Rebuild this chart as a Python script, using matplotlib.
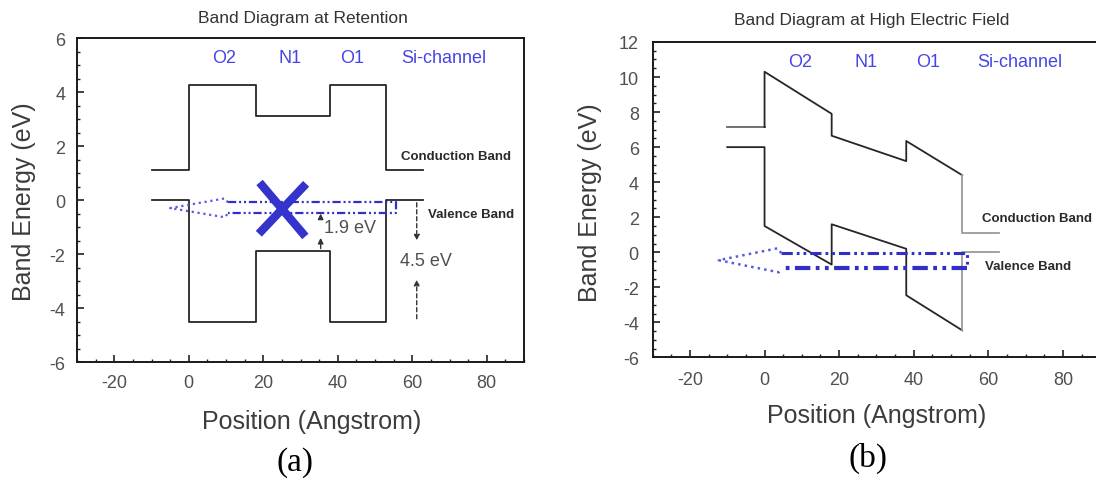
import numpy as np
import matplotlib
matplotlib.use("Agg")
import matplotlib.pyplot as plt
from matplotlib.ticker import MultipleLocator

plt.rcParams['font.family'] = ['Liberation Sans', 'DejaVu Sans']
plt.rcParams['axes.unicode_minus'] = False

# ---- panel (a): band diagram at retention ----
pos_a = [-10, 0, 0, 18, 18, 38, 38, 53, 53, 63]
cb_a = [1.1, 1.1, 4.25, 4.25, 3.1, 3.1, 4.25, 4.25, 1.1, 1.1]
vb_a = [0, 0, -4.5, -4.5, -1.9, -1.9, -4.5, -4.5, 0, 0]

# hole path outline (shaft + dotted head), panel (a)
shaft_a_x = [10.5, 55.6, 55.6, 10.5]
shaft_a_y = [-0.09, -0.09, -0.49, -0.49]
head_a_x = [10.5, 9.7, -5, 9.7, 10.5]
head_a_y = [-0.09, 0.06, -0.3, -0.64, -0.49]
cross_a = [[(19, 0.65), (31.3, -1.35)], [(31.5, 0.6), (18.8, -1.25)]]

# ---- panel (b): band diagram at high electric field ----
pos_b = [-10, 0, 0, 18, 18, 38, 38, 53]
cb_b = [7.15, 7.15, 10.3, 7.9, 6.65, 5.2, 6.35, 4.4]
vb_b = [6.0, 6.0, 1.5, -0.7, 1.6, 0.2, -2.45, -4.45]
pos_si = [53, 53, 63]
cb_si = [4.4, 1.1, 1.1]
vb_si = [-4.45, 0, 0]

shaft_b_x = [4.5, 54.3, 54.3, 4.5]
shaft_b_y = [-0.05, -0.05, -0.9, -0.9]
head_b_x = [4.5, 3.5, -12.3, 3.8, 4.5]
head_b_y = [-0.05, 0.23, -0.45, -1.14, -0.9]

layers = ['O2', 'N1', 'O1', 'Si-channel']
layer_x = [9.6, 27.3, 43.8, 68.5]

band_col = '#262626'
blue = '#3030c8'
text_blue = '#4545e6'
gray_txt = '#505050'
dashdot = (0, (3.7, 1.3, 0.9, 1.3, 0.9, 1.3))

fig = plt.figure(figsize=(10.96, 4.81), dpi=100)
ax1 = fig.add_axes([0.0703, 0.2453, 0.4078, 0.6736])
ax2 = fig.add_axes([0.5955, 0.2547, 0.4083, 0.656])


def style_axes(ax, ylim, pad):
    ax.set_xlim(-30, 90)
    ax.set_ylim(*ylim)
    ax.xaxis.set_major_locator(MultipleLocator(20))
    ax.xaxis.set_minor_locator(MultipleLocator(5))
    ax.yaxis.set_major_locator(MultipleLocator(2))
    ax.yaxis.set_minor_locator(MultipleLocator(0.5))
    ax.tick_params(which='both', direction='in', top=False, right=False,
                   colors='#222222', labelcolor=gray_txt, labelsize=13, pad=pad)
    ax.tick_params(which='major', length=5, width=1.2)
    ax.tick_params(which='minor', length=2.5, width=1)
    for s in ax.spines.values():
        s.set_linewidth(1.4)
        s.set_color('#1a1a1a')
    ax.set_xlabel('Position (Angstrom)', fontsize=18, color='#3c3c3c')
    ax.set_ylabel('Band Energy (eV)', fontsize=18, color='#3c3c3c')
    ax.xaxis.label.set_va('center')
    ax.yaxis.label.set_va('center')


style_axes(ax1, (-6, 6), 8.5)
style_axes(ax2, (-6, 12), 10)
ax1.xaxis.set_label_coords(0.524, -0.181)
ax1.yaxis.set_label_coords(-0.119, 0.498)
ax2.xaxis.set_label_coords(0.501, -0.182)
ax2.yaxis.set_label_coords(-0.14, 0.493)

# panel titles
fig.text(303 / 1096, 1 - 19 / 481, 'Band Diagram at Retention', fontsize=12.5,
         color='#333333', ha='center', va='center')
fig.text(872 / 1096, 1 - 20 / 481, 'Band Diagram at High Electric Field',
         fontsize=12.5, color='#333333', ha='center', va='center')

# panel (a)
ax1.plot(pos_a, cb_a, color=band_col, lw=1.3)
ax1.plot(pos_a, vb_a, color=band_col, lw=1.3)
ax1.plot(shaft_a_x, shaft_a_y, color=blue, lw=1.6, linestyle=dashdot)
ax1.plot(head_a_x, head_a_y, color='#5a5ae0', lw=1.6, linestyle=':')
for (p0, p1) in cross_a:
    ax1.plot([p0[0], p1[0]], [p0[1], p1[1]], color='#3434cc', lw=6,
             solid_capstyle='butt')

arr = dict(arrowstyle='-|>', color='#333333', lw=1.0, mutation_scale=8)
ax1.annotate('', xy=(35.4, -0.4), xytext=(35.4, -0.8), arrowprops=arr)
ax1.annotate('', xy=(35.4, -1.3), xytext=(35.4, -1.9), arrowprops=arr)
ax1.text(36.4, -1.0, '1.9 eV', fontsize=13, color=gray_txt, va='center')
arr_d = dict(arrowstyle='-|>', color='#333333', lw=1.0, mutation_scale=8,
             linestyle=(0, (3, 2)))
ax1.annotate('', xy=(61.2, -1.6), xytext=(61.2, 0), arrowprops=arr_d)
ax1.annotate('', xy=(61.2, -2.85), xytext=(61.2, -4.5), arrowprops=arr_d)
ax1.text(56.6, -2.25, '4.5 eV', fontsize=13, color=gray_txt, va='center')
ax1.text(56.9, 1.64, 'Conduction Band', fontsize=9.5, fontweight='bold',
         color='#2a2a2a', va='center')
ax1.text(64.3, -0.52, 'Valence Band', fontsize=9.5, fontweight='bold',
         color='#2a2a2a', va='center')
for name, xv in zip(layers, layer_x):
    ax1.text(xv, 5.26, name, fontsize=13, color=text_blue, ha='center',
             va='center')

# panel (b)
ax2.plot(pos_b[:2], cb_b[:2], color='#666666', lw=1.3)
ax2.plot(pos_b[1:], cb_b[1:], color=band_col, lw=1.3)
ax2.plot(pos_b, vb_b, color=band_col, lw=1.3)
ax2.plot(pos_si, cb_si, color='#9a9a9a', lw=1.3)
ax2.plot(pos_si, vb_si, color='#9a9a9a', lw=1.3)
ax2.plot(shaft_b_x[:3], shaft_b_y[:3], color=blue, lw=2.2, linestyle=dashdot)
ax2.plot(shaft_b_x[2:], shaft_b_y[2:], color=blue, lw=3.0, linestyle=dashdot)
ax2.plot(head_b_x, head_b_y, color='#5a5ae0', lw=1.8, linestyle=':')
ax2.text(58.3, 1.96, 'Conduction Band', fontsize=9.5, fontweight='bold',
         color='#2a2a2a', va='center')
ax2.text(59.2, -0.8, 'Valence Band', fontsize=9.5, fontweight='bold',
         color='#2a2a2a', va='center')
for name, xv in zip(layers, layer_x):
    ax2.text(xv, 10.9, name, fontsize=13, color=text_blue, ha='center',
             va='center')

fig.text(295 / 1096, 1 - 463 / 481, '(a)', fontsize=24,
         family='Liberation Serif', ha='center', va='center')
fig.text(868 / 1096, 1 - 458 / 481, '(b)', fontsize=24,
         family='Liberation Serif', ha='center', va='center')

fig.savefig('out.png', dpi=100)
